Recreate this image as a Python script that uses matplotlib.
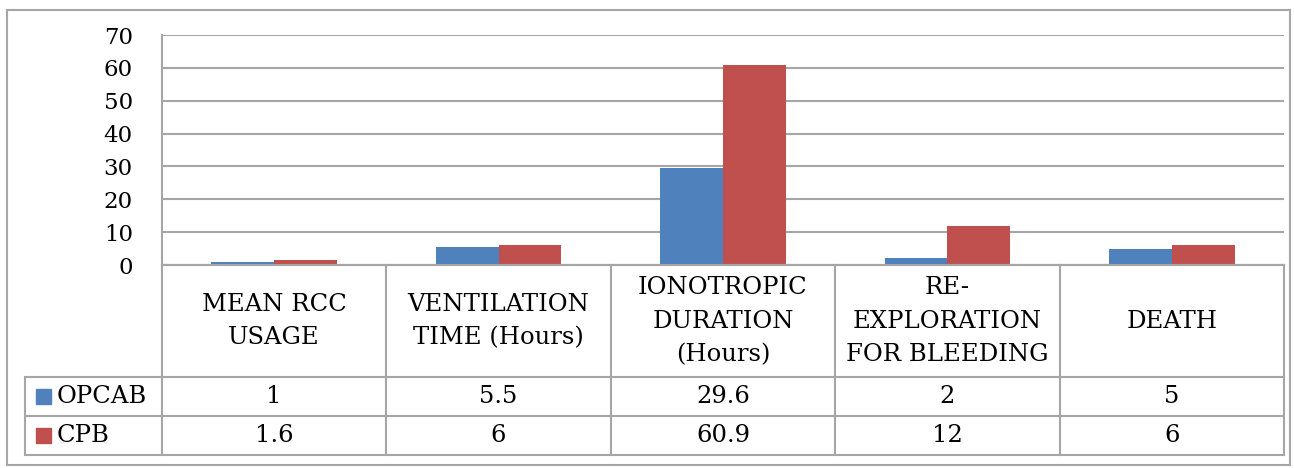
import matplotlib
matplotlib.use("Agg")
import matplotlib.pyplot as plt
from matplotlib.patches import Rectangle
from matplotlib.lines import Line2D

categories = ["MEAN RCC\nUSAGE", "VENTILATION\nTIME (Hours)", "IONOTROPIC\nDURATION\n(Hours)",
              "RE-\nEXPLORATION\nFOR BLEEDING", "DEATH"]
series_names = ["OPCAB", "CPB"]
opcab = [1, 5.5, 29.6, 2, 5]
cpb = [1.6, 6, 60.9, 12, 6]
opcab_labels = ["1", "5.5", "29.6", "2", "5"]
cpb_labels = ["1.6", "6", "60.9", "12", "6"]
yticks = [0, 10, 20, 30, 40, 50, 60, 70]

colors = ["#4F81BD", "#C0504D"]
grid_c = "#A6A6A6"
W, H = 1294, 468
plt.rcParams['font.family'] = ['DejaVu Serif']

fig = plt.figure(figsize=(W / 100, H / 100), dpi=100)

# outer frame
fig.patches.append(Rectangle((7 / W, 1 - 465 / H), (1290 - 7) / W, (465 - 10) / H,
                             transform=fig.transFigure, fill=False, edgecolor=grid_c, lw=1.5))

pl, pr, pt, pb = 162, 1284, 35, 265
ax = fig.add_axes([pl / W, 1 - pb / H, (pr - pl) / W, (pb - pt) / H])
n = len(categories)
x = list(range(n))
bw = 0.28
ax.bar([i - bw / 2 for i in x], opcab, width=bw, color=colors[0], zorder=3)
ax.bar([i + bw / 2 for i in x], cpb, width=bw, color=colors[1], zorder=3)
ax.set_xlim(-0.5, n - 0.5)
ax.set_ylim(0, 70)
ax.set_yticks(yticks)
ax.set_yticklabels([str(v) for v in yticks], fontsize=16.5)
ax.tick_params(axis='y', length=0, pad=21)
ax.set_xticks([])
ax.grid(axis='y', color=grid_c, lw=1.5, zorder=0)
for s in ['top', 'right']:
    ax.spines[s].set_visible(False)
for s in ['left', 'bottom']:
    ax.spines[s].set_color(grid_c)
    ax.spines[s].set_linewidth(1.5)

# data table
tl, tr, tt, tb = 25, 1284, 265, 455
cat_px = (pr - pl) / n
left_x = -0.5 - (pl - tl) / cat_px
tax = fig.add_axes([tl / W, 1 - tb / H, (tr - tl) / W, (tb - tt) / H])
tax.set_xlim(left_x, n - 0.5)
tax.set_ylim(tb - tt, 0)
tax.axis('off')
r1, r2, r3 = 112, 151, 190
lk = dict(color=grid_c, lw=1.5)
# horizontal lines
tax.add_line(Line2D([-0.5, n - 0.5], [0, 0], **lk))
for yy in (r1, r2, r3):
    tax.add_line(Line2D([left_x, n - 0.5], [yy, yy], **lk))
# vertical lines
for i in range(n + 1):
    tax.add_line(Line2D([i - 0.5, i - 0.5], [0, r3], **lk))
tax.add_line(Line2D([left_x, left_x], [r1, r3], **lk))
for line in tax.lines:
    line.set_clip_on(False)

fs = 17.5
for i, c in enumerate(categories):
    tax.text(i, r1 / 2, c, ha='center', va='center', fontsize=fs, linespacing=1.6)
    tax.text(i, (r1 + r2) / 2, opcab_labels[i], ha='center', va='center', fontsize=fs)
    tax.text(i, (r2 + r3) / 2, cpb_labels[i], ha='center', va='center', fontsize=fs)

sw = 15 / cat_px
for k, (name, yc) in enumerate(zip(series_names, [(r1 + r2) / 2, (r2 + r3) / 2])):
    sx = left_x + 11 / cat_px
    tax.add_patch(Rectangle((sx, yc - 7.5), sw, 15, color=colors[k], clip_on=False))
    tax.text(sx + sw + 6 / cat_px, yc, name, ha='left', va='center', fontsize=fs)

fig.savefig("out.png", dpi=100)
